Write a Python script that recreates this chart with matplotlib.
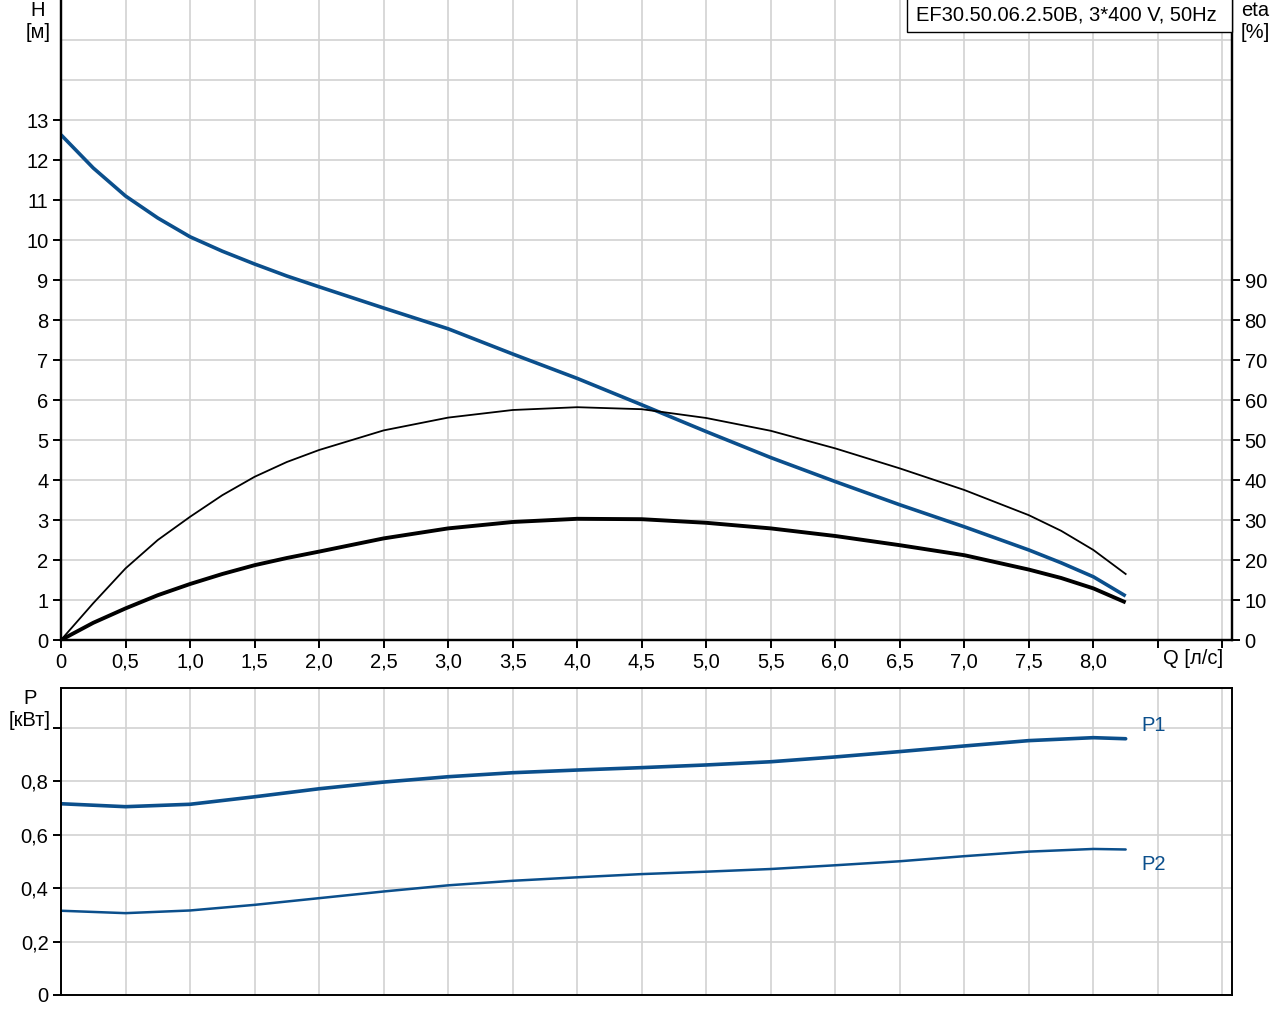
import matplotlib
matplotlib.use("Agg")
import matplotlib.pyplot as plt
from matplotlib.patches import Rectangle

plt.rcParams['font.family'] = ['Liberation Sans', 'DejaVu Sans']

# flow Q [l/s]
q = [0, 0.25, 0.5, 0.75, 1.0, 1.25, 1.5, 1.75, 2.0, 2.5, 3.0, 3.5, 4.0, 4.5, 5.0, 5.5, 6.0, 6.5, 7.0, 7.5, 7.75, 8.0, 8.25]
# head H [m]
head = [12.63, 11.8, 11.1, 10.55, 10.08, 9.72, 9.4, 9.1, 8.83, 8.3, 7.78, 7.15, 6.54, 5.88, 5.21, 4.56, 3.96, 3.38, 2.83, 2.25, 1.93, 1.58, 1.1]
# hydraulic efficiency [%]
eta_hyd = [0, 9.2, 17.9, 25.0, 30.8, 36.2, 40.8, 44.5, 47.5, 52.4, 55.6, 57.5, 58.2, 57.7, 55.5, 52.3, 47.9, 42.9, 37.5, 31.2, 27.3, 22.5, 16.5]
# total efficiency [%]
eta_tot = [0, 4.3, 7.9, 11.2, 14.0, 16.5, 18.7, 20.5, 22.1, 25.4, 27.9, 29.5, 30.3, 30.2, 29.3, 27.9, 26.0, 23.7, 21.2, 17.6, 15.5, 12.9, 9.4]

q_p = [0, 0.5, 1.0, 1.5, 2.0, 2.5, 3.0, 3.5, 4.0, 4.5, 5.0, 5.5, 6.0, 6.5, 7.0, 7.5, 8.0, 8.25]
p1 = [0.715, 0.704, 0.713, 0.741, 0.771, 0.796, 0.816, 0.831, 0.841, 0.85, 0.86, 0.872, 0.89, 0.91, 0.931, 0.951, 0.962, 0.958]
p2 = [0.315, 0.306, 0.316, 0.337, 0.362, 0.387, 0.41, 0.427, 0.44, 0.452, 0.461, 0.471, 0.485, 0.50, 0.519, 0.536, 0.546, 0.544]

x_ticks = [0, 0.5, 1.0, 1.5, 2.0, 2.5, 3.0, 3.5, 4.0, 4.5, 5.0, 5.5, 6.0, 6.5, 7.0, 7.5, 8.0, 8.5, 9.0]
x_labels = ["0", "0,5", "1,0", "1,5", "2,0", "2,5", "3,0", "3,5", "4,0", "4,5", "5,0", "5,5", "6,0", "6,5", "7,0", "7,5", "8,0", "", ""]
h_ticks = list(range(0, 14))
eta_ticks = list(range(0, 100, 10))
p_ticks = [0, 0.2, 0.4, 0.6, 0.8, 1.0]
p_labels = ["0", "0,2", "0,4", "0,6", "0,8", ""]

blue = "#0b4f8c"
grid_c = "#d2d2d2"
fs = 14.5

fig = plt.figure(figsize=(12.8, 10.24), dpi=100)
W, H = 1280.0, 1024.0
ax = fig.add_axes([61 / W, 1 - 640 / H, (1232 - 61) / W, 640 / H])
ax2 = ax.twinx()
axp = fig.add_axes([61 / W, 1 - 995 / H, (1232 - 61) / W, (995 - 688) / H])

xmax = 9.074

# top panel
ax.set_xlim(0, xmax)
ax.set_ylim(0, 16)
ax2.set_ylim(0, 160)
ax.set_xticks(x_ticks)
ax.set_xticklabels(x_labels)
ax.set_yticks(h_ticks)
ax2.set_yticks(eta_ticks)
ax.set_axisbelow(True)
for v in x_ticks:
    ax.axvline(v, color=grid_c, lw=1.2, zorder=0)
for v in range(1, 16):
    ax.axhline(v, color=grid_c, lw=1.2, zorder=0)

ax.plot(q, head, color=blue, lw=2.6, solid_capstyle='butt', solid_joinstyle='round', zorder=5)
ax2.plot(q, eta_hyd, color="black", lw=1.3, solid_joinstyle='round', zorder=4)
ax2.plot(q, eta_tot, color="black", lw=2.8, solid_capstyle='butt', solid_joinstyle='round', zorder=4)

for a in (ax, ax2):
    a.spines['top'].set_visible(False)
    for s in ('left', 'right', 'bottom'):
        a.spines[s].set_linewidth(1.6)
ax.tick_params(labelsize=fs, length=6, width=1.4, pad=3)
ax2.tick_params(labelsize=fs, length=6, width=1.4, pad=3)

fig.text(38 / W, 1 - 11 / H, "H", fontsize=fs, ha='center', va='center')
fig.text(38 / W, 1 - 33 / H, "[м]", fontsize=fs, ha='center', va='center')
fig.text(1255 / W, 1 - 11 / H, "eta", fontsize=fs, ha='center', va='center')
fig.text(1255 / W, 1 - 33 / H, "[%]", fontsize=fs, ha='center', va='center')
fig.text(1193 / W, 1 - 659 / H, "Q [л/с]", fontsize=fs, ha='center', va='center')

fig.patches.append(Rectangle((907 / W, 1 - 32 / H), 325 / W, 40 / H, transform=fig.transFigure,
                             facecolor='white', edgecolor='black', lw=1.0, zorder=10))
fig.text(1066 / W, 1 - 15 / H, "EF30.50.06.2.50B, 3*400 V, 50Hz", fontsize=fs,
         ha='center', va='center', zorder=11)

# bottom panel
axp.set_xlim(0, xmax)
axp.set_ylim(0, 1.1477)
axp.set_xticks([])
axp.set_yticks(p_ticks)
axp.set_yticklabels(p_labels)
for v in x_ticks:
    axp.axvline(v, color=grid_c, lw=1.2, zorder=0)
for v in p_ticks[1:]:
    axp.axhline(v, color=grid_c, lw=1.2, zorder=0)
axp.plot(q_p, p1, color=blue, lw=2.6, solid_capstyle='round', solid_joinstyle='round')
axp.plot(q_p, p2, color=blue, lw=1.8, solid_capstyle='round', solid_joinstyle='round')
axp.text(8.37, 1.006, "P1", color=blue, fontsize=fs, ha='left', va='center')
axp.text(8.37, 0.486, "P2", color=blue, fontsize=fs, ha='left', va='center')
for s in axp.spines.values():
    s.set_linewidth(1.4)
axp.tick_params(labelsize=fs, length=6, width=1.4, pad=3)

fig.text(30 / W, 1 - 698 / H, "P", fontsize=fs, ha='center', va='center')
fig.text(30 / W, 1 - 721 / H, "[кВт]", fontsize=fs, ha='center', va='center')

plt.savefig("out.png", dpi=100)
